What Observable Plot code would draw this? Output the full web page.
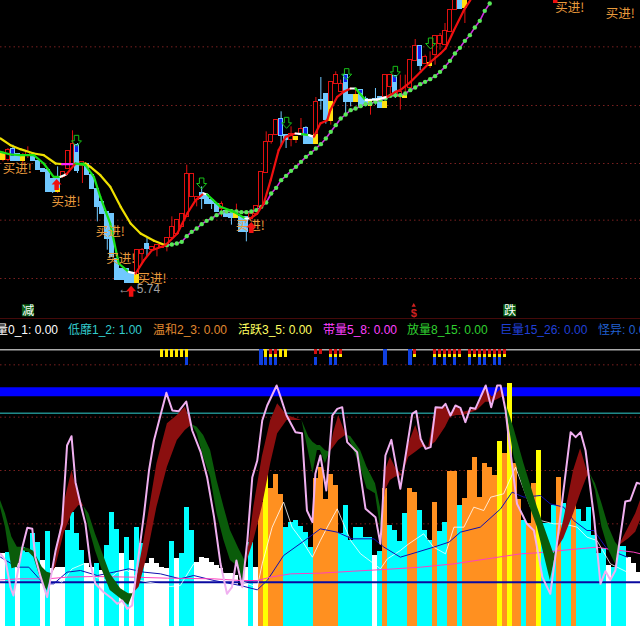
<!DOCTYPE html>
<html><head><meta charset="utf-8">
<script src="https://cdn.jsdelivr.net/npm/d3@7"></script>
<script src="https://cdn.jsdelivr.net/npm/@observablehq/plot@0.6"></script>
<style>
html,body{margin:0;padding:0;background:#000;overflow:hidden}
#wrap{width:640px;height:626px;background:#000;position:relative;overflow:hidden}
#wrap svg{display:block;background:#000}
#legend{position:relative;height:21px;width:640px;overflow:hidden;font:12px "Liberation Sans","Noto Sans CJK SC",sans-serif}
#legend span{position:absolute;top:1px;white-space:nowrap}
</style></head><body><div id="wrap"></div>
<script>
const DAYS = 128.86;
// ---- price panel (chart units) ----
const candleDay = [0,1,2,2,3,4,5,6,7,8,9,10,11,11,12,13,14,15,15,16,17,18,19,20,21,22,23,24,25,26,27,27,28,29,30,31,32,33,34,35,36,37,38,39,40,41,42,43,44,45,46,47,48,49,50,51,52,53,54,55,56,57,58,59,60,61,61,62,63,63,64,65,66,66,67,68,69,69,70,71,72,72,73,74,75,76,77,77,78,79,79,80,81,82,83,84,84,85,86,87,88,89,90,91,92,93,94];
const candleKind = "y r n b b y r b b b b b b y r r r n b r b b b b b b b b b b r y r b r r r r r r r r r r b b b b r b b y b b r r r r r r n b r y r n b b r y b b r y r r n b b y n b b y b b r y r n b r y r r n b r y r r r r r b y".split(" ");
const candleHigh = [505,515,525,490,498,500,520,495,478,455,450,425,460,395,445,507,568,530,502,475,470,435,395,355,325,320,185,155,155,140,210,135,215,245,220,225,227,248,310,300,320,465,438,370,400,375,360,350,355,328,320,348,310,310,320,342,445,565,555,600,625,555,580,550,605,580,555,552,668,555,728,680,715,655,745,720,735,712,677,690,690,678,670,660,695,670,735,655,735,732,712,735,735,780,842,822,780,795,805,852,860,890,930,970,980,965,965];
const candleTop = [500,510,515,490,498,495,505,495,478,455,450,425,425,395,445,507,528,525,502,475,470,435,395,355,325,320,185,155,155,140,210,135,210,230,220,225,227,248,280,300,320,438,438,370,382,375,360,350,350,328,320,320,310,310,320,342,445,535,555,600,605,555,560,550,575,578,555,552,655,555,662,680,715,655,735,710,735,712,677,677,690,678,665,660,665,670,735,655,735,732,712,685,677,780,822,822,780,790,772,852,852,868,930,970,980,965,965];
const candleBottom = [482,482,490,478,478,478,495,478,450,445,385,385,395,385,430,455,470,502,448,463,435,395,340,320,245,190,122,122,112,112,135,112,198,215,210,215,218,225,248,260,280,310,370,360,365,348,348,325,335,310,308,308,265,265,305,320,340,442,535,555,552,540,540,540,555,555,528,528,555,528,657,600,655,598,710,685,712,655,655,655,678,640,650,642,662,637,670,637,700,712,682,670,667,698,778,780,762,770,763,795,830,825,865,930,935,938,938];
const candleLow = [475,475,490,478,478,470,485,478,450,445,385,380,395,380,425,455,465,502,440,410,435,395,295,320,210,190,122,122,112,112,135,112,170,190,210,190,218,205,248,260,280,310,370,340,332,348,332,325,310,310,285,308,265,235,305,320,340,442,528,555,520,515,520,530,555,555,528,528,555,528,630,588,655,585,710,685,712,620,640,655,678,640,640,615,645,637,670,637,675,712,665,630,667,698,778,780,748,770,755,765,810,825,865,930,935,890,915];

const priceGrid = [820,644,470,300,125];
const fastDay = [0,2,4,6.7,8.7,10.7,12.1,13.3,15.1,17.1,18.8,20.1,22.1,23.8,25.8,27.2,28.9,30.5,33.2,35.6,37.6,39.3,40.9,41.6,44.3,47,49.3,50.3,51.7,53,54.4,56,57.4,59.4,60.7,62.1,63.1,64.4,65.8,66.4,67.8,69.1,70.5,71.5,73.5,75.8,77.9,79.5,80.5,82.6,84.6,86.6,88.6,89.6,91.3,93.3,94.6];
const fastVal = [505,497,495,495,470,430,430,438,470,465,430,370,290,170,145,140,180,210,225,260,320,360,380,377,340,325,305,305,320,350,420,510,550,560,558,555,550,590,600,630,670,685,695,695,660,662,670,685,690,715,745,775,800,815,870,930,960];
const fastTone = "G G G G G G W R G G G G G G W R R R R R R R W G G G W R R R R R R W G W R R R R R R W G W W R R R R R R R R R R R".split(" ");
const slowDay = [0,2,4,6.7,8.7,11.1,12.4,14.8,17.1,18.1,20.1,22.1,24.2,26.2,28.2,30.9,33.2];
const slowVal = [545,525,513,500,495,470,468,468,470,460,435,400,340,290,260,238,225];
const slowTone = "Y Y Y Y Y Y M G Y Y Y Y Y Y Y Y".split(" ");
const dotDay = d3.range(33,99);
const dotVal = [225,227,230,235,252,265,275,288,298,305,315,323,326,327,326,324,324,326,330,340,353,380,397,420,433,448,460,475,490,502,515,528,545,565,585,605,617,630,635,642,648,650,655,660,665,673,675,675,680,690,698,708,715,723,732,745,760,778,800,817,838,855,878,898,928,950];

const buyDay = [3.4,13.2,22.1,24.2,30.5,50.3,114.6,124.8];
const buyVal = [455,355,265,185,125,282,938,920];
const upDay = [11.3,50.5,26.3,111.7];
const upVal = [407,278,87,968];
const downDay = [15.3,40.5,57.6,69.7,79.5,86.6];
const downVal = [538,410,592,738,745,830];

// ---- indicator panel (chart units) ----
const volumes = [218,221,221,188,238,223,278,253,198,285,173,178,178,288,343,278,228,188,178,188,168,243,341,291,218,266,198,296,248,188,203,188,178,173,255,203,218,358,288,193,208,203,193,183,173,158,158,153,123,178,251,178,373,463,415,456,396,298,313,318,300,283,238,443,478,381,456,423,278,363,258,298,298,268,266,213,226,413,303,288,256,338,413,401,348,288,258,373,286,313,465,465,363,383,467,506,388,488,478,453,554,518,728,490,381,318,308,430,528,308,308,363,448,368,328,398,351,316,358,273,218,233,183,178,241,241,208,188,163];
const volumeKind = ("wccwcccc"+"wc"+"www"+"cccc"+"ww"+"c"+"w"+"ccc"+"w"+"c"+"w"+"cc"+"wwwww"+"c"+"w"+"ccc"+"wwwwwwwwwww"+"c"+"w"+"oyooo"+"cccccc"+"ooooo"+"ccccccc"+"w"+"c"+"o"+"cccc"+"oo"+"ccc"+"o"+"cc"+"oo"+"c"+"o"+"oooooo"+"y"+"o"+"y"+"oo"+"c"+"oo"+"y"+"ccc"+"o"+"cc"+"o"+"cccccc"+"w"+"ccc"+"www").split("");

const pinkDay = [0,1,2,2.6,3.4,4.4,5.4,6.4,7,8.1,9.4,11.1,12.4,13.4,14.3,15.1,16.1,17.1,18.1,19.1,20.8,22.5,23.5,24.5,25.5,26.5,27.5,28.9,29.9,30.9,32.2,33.4,34.6,35.9,37.4,38.6,40.3,41.6,43,44.3,45.6,46.6,47.5,48.7,49.7,50.7,51.7,52.7,53.7,55.6,56.4,57.6,59.4,60.7,61.7,62.8,63.4,64.4,65.6,66.8,67.8,68.8,69.8,71.8,73.5,75.5,76.5,77.5,78.7,80.5,82.9,83.7,84.6,85.6,86.6,87.6,88.9,89.6,90.6,91.6,92.6,93.6,94.6,95.6,97.7,98.8,100,100.7,101.7,102.3,104,106,107.4,108.4,109.1,110.7,111.7,114.8,115.8,116.8,117.8,119.5,120.8,121.8,122.8,123.8,125.8,126.8,128.1,128.86];
const pinkVal = [218,198,118,93,158,238,296,293,208,148,88,228,308,543,571,433,368,308,188,128,103,83,68,78,53,63,178,338,468,558,633,701,648,646,675,588,523,448,328,188,98,118,198,118,258,448,498,618,663,723,688,633,583,580,348,313,458,513,408,633,653,658,553,523,353,328,248,513,560,413,638,646,563,533,538,658,656,668,633,663,656,613,656,653,723,658,723,723,648,568,368,308,288,208,148,98,208,583,568,583,528,328,128,166,140,168,375,378,431,428];

const ribbonDay = [0,1,2.3,3.4,4.4,5.7,6.7,8.4,9.4,10.4, 11.1,12.8,14.4,15.8,16.8, 17.8,19.1,20.5,22.1,24.2,25.8,26.7, 27.9,29.5,31.5,33.6,35.6,37.2,38.6, 39.6,40.9,42.3,43.6,45,46.3,48,48.7,49.5, 51,52.7,54.4,55.8,57.7,60.7, 62.1,62.9,63.8,64.4,65.4,66.3, 67.1,68.1,69.5,69.8, 70.5,72.5,73.8,75.5,76.5,76.7, 77.5,78.5,79.5,80.9,82.2,83.6,84.9,86.2, 87.6,89.6,90.6,91.9,93.3,96,97.7,99,101,101.7, 102,103.4,105.4,108.1,110.7,111.4,111.9, 113.4,115.4,116.8,118.1,118.7, 119.8,121.1,122.5,123.8,124.5,124.6, 126.5,127.9,128.86];
const ribbonFast = [358,298,173,178,228,223,208,128,108,158, 198,368,468,388,360, 298,228,168,108,83,63,98, 178,308,488,608,633,658,605, 578,508,448,338,258,198,178,138,188, 358,508,618,668,633,618, 518,458,528,528,488,523, 583,633,578,573, 553,478,413,398,298,308, 468,508,478,453,548,603,548,538, 653,658,633,658,643,653,713,688,713,678, 638,508,408,298,138,188,228, 318,468,533,468,458, 408,298,228,188,218,243, 298,338,378];
const ribbonSlow = [378,338,268,238,238,233,226,178,163,158, 178,278,338,363,360, 338,278,223,158,113,98,98, 118,208,358,478,558,588,605, 598,573,528,438,358,288,233,213,188, 258,358,488,578,618,618, 568,553,543,543,528,523, 538,558,573,573, 570,528,478,428,358,308, 408,438,448,453,508,523,538,538, 553,598,628,633,633,648,673,673,688,678, 658,593,488,358,248,218,228, 263,338,398,448,458, 428,368,298,253,240,243, 263,283,318];

const whiteDay = [10.1,12.4,14.4,16.8,19.1,21.5,23.5,25.5,28.2,31.5,34.2,36.2,38.9,51.7,52.7,54.7,57,58.7,60.7,62.8,64.4,65.8,67.8,70.5,72.5,75.2,76.5,77.9,80.5,82.2,85.2,87.2,89.6,91.3,93.3,95.3,97.3,98.7,101.3,103.7,106.7,108.7,111.4,113.4,116.1,118.1,120.1,122.8,126.2];
const whiteVal = [148,133,173,188,148,138,163,168,138,128,120,123,188,118,188,298,373,298,258,208,258,298,353,258,218,188,173,203,228,248,278,238,218,298,298,358,348,388,398,478,358,318,308,308,298,268,258,188,163];
const navyDay = [0,3.4,5.7,8.7,10.7,13.4,16.1,19.5,22.8,25.8,28.9,32.2,36.2,38.9,43,48.3,51.7,53.7,57,61.7,64.4,67.8,70.8,75.2,77.2,80.5,83.9,87.2,90.3,92.6,96.6,100.7,103,105.4,108.7,110.7,113.4,115.4,118.1,119.5,122.1,126.2];
const navyVal = [208,178,178,128,128,163,168,153,163,173,163,158,143,153,138,123,110,138,213,263,293,283,263,263,238,208,223,238,253,283,298,353,403,388,393,368,358,318,288,288,233,208];
const roseDay = [0,4,9.4,13.4,18.8,26.8,33.6,43,48.3,51.7,54.4,58.4,64.4,71.1,77.2,84.6,91.3,98,104.7,108.1,112.8,120.1,122.1,127.5,128.86];
const roseVal = [140,143,143,148,150,148,145,143,138,138,148,158,160,166,171,178,188,203,218,221,228,238,233,223,218];

const stripYellow = [32,33,34,35,36,37,53,54,55,56,57,66,67,68,83,87,88,89,90,91,92,94,95,96,97,98,99,100,101];
const stripRed = [54,55,63,64,66,67,68,83,87,88,89,90,91,92,94,95,96,97,98,99,100,101];
const stripBlue = [37,53,54,55,63,66,67,87,89,91,94,96,97,99,100];
const stripTall = [52,77,82];
const panelGrid = [785,628,468,308];

const legendLabels = ["低量0_1: 0.00","低靡1_2: 1.00","温和2_3: 0.00","活跃3_5: 0.00","带量5_8: 0.00","放量8_15: 0.00","巨量15_26: 0.00","怪异: 0.00"];
const legendLeft = [-16,68,153,238,323,407,500,598];
const legendColor = ["#fff","#33cccc","#e08a30","#ffff60","#ff40ff","#30d030","#2040d8","#2060d0"];

// ---- colours ----
const tones = {G:"#18e018",W:"#fff",R:"#f01010",M:"#ff20ff",Y:"#f0e000"};
const barTones = {w:"#fff",c:"#00ffff",o:"#ff9020",y:"#ffff00"};
const bodyFill = {r:"#000",b:"#70c8ff",y:"#ffe010",n:"#1020f0"};
const bodyStroke = {r:"#e01010",b:"#70c8ff",y:"#ffe010",n:"#70c8ff"};
const wick = {r:"#e01010",b:"#70c8ff",y:"#e01010",n:"#70c8ff"};

const upArrow = {draw(c,size){const r=Math.sqrt(size/Math.PI);c.moveTo(0,-r*1.1);c.lineTo(r,0);c.lineTo(r*.45,0);c.lineTo(r*.45,r*1.1);c.lineTo(-r*.45,r*1.1);c.lineTo(-r*.45,0);c.lineTo(-r,0);c.closePath();}};
const downArrow = {draw(c,size){const r=Math.sqrt(size/Math.PI);c.moveTo(0,r*1.1);c.lineTo(r,0);c.lineTo(r*.45,0);c.lineTo(r*.45,-r*1.1);c.lineTo(-r*.45,-r*1.1);c.lineTo(-r*.45,0);c.lineTo(-r,0);c.closePath();}};

const cjk = '"Noto Sans CJK SC",sans-serif';
const candles = candleDay.map((d,i)=>({d,k:candleKind[i],h:candleHigh[i],t:candleTop[i],b:candleBottom[i],l:candleLow[i]}));
const pts = (xs,ys,tone)=>xs.map((x,i)=>({x,y:ys[i],nx:xs[i+1],ny:ys[i+1],tone:tone?tone[i]:null}));

const price = Plot.plot({
  width:640,height:319,margin:0,
  x:{domain:[0,DAYS],axis:null},y:{domain:[2,959],axis:null},
  color:{type:"identity"},style:{background:"#000"},
  marks:[
    Plot.ruleY(priceGrid,{y:d=>d,stroke:"#7a2020",strokeDasharray:"1.5,3",strokeWidth:1}),
    Plot.ruleY([3],{stroke:"#8a1414",strokeWidth:1.5}),
    Plot.ruleX(candles,{x:d=>d.d+.5,y1:"l",y2:"h",stroke:d=>wick[d.k],strokeWidth:1,clip:true}),
    Plot.rect(candles,{x1:d=>d.d,x2:d=>d.d+1,y1:"b",y2:"t",fill:d=>bodyFill[d.k],stroke:d=>bodyStroke[d.k],insetLeft:.5,insetRight:.5,shapeRendering:"crispEdges",clip:true}),
    Plot.line(dotDay.map((d,i)=>({d:d+.5,v:dotVal[i]})),{x:"d",y:"v",stroke:"#d030e0",strokeWidth:1.6,clip:true}),
    Plot.dot(dotDay.map((d,i)=>({d:d+.5,v:dotVal[i]})),{x:"d",y:"v",r:2.2,fill:"#58e858",clip:true}),
    Plot.link(pts(slowDay,slowVal,slowTone).slice(0,-1),{x1:"x",y1:"y",x2:"nx",y2:"ny",stroke:d=>tones[d.tone],strokeWidth:2.2,strokeLinecap:"round"}),
    Plot.link(pts(fastDay,fastVal,fastTone).slice(0,-1),{x1:"x",y1:"y",x2:"nx",y2:"ny",stroke:d=>tones[d.tone],strokeWidth:2.2,strokeLinecap:"round",clip:true}),
    Plot.text(buyDay.map((d,i)=>({d,v:buyVal[i]})),{x:"d",y:"v",text:()=>"买进!",fill:"#e89a3c",fontSize:12.5,fontFamily:cjk}),
    Plot.dot(upDay.map((d,i)=>({d,v:upVal[i]})),{x:"d",y:"v",r:5,symbol:upArrow,fill:"#f01010",clip:true}),
    Plot.dot(downDay.map((d,i)=>({d,v:downVal[i]})),{x:"d",y:"v",r:5,symbol:downArrow,fill:"none",stroke:"#18c018",strokeWidth:1}),
    Plot.text([{d:24.9,v:93}],{x:"d",y:"v",text:()=>"←",fill:"#a0a0a0",fontSize:12,textAnchor:"middle",fontFamily:"Liberation Sans"}),
    Plot.text([{d:29.8,v:93}],{x:"d",y:"v",text:()=>"5.74",fill:"#a0a0a0",fontSize:12,fontFamily:"Liberation Sans"}),
    Plot.rect([{a:4.4,b:6.85},{a:101.3,b:103.9}],{x1:"a",x2:"b",y1:10,y2:46,fill:"#0b5c14"}),
    Plot.text([{d:5.6,t:"减"},{d:102.6,t:"跌"}],{x:"d",y:28,text:"t",fill:"#fff",fontSize:12,fontFamily:cjk}),
    Plot.text([{d:83.2}],{x:"d",y:20,text:()=>"$",fill:"#d02020",fontSize:11,fontWeight:"bold",fontFamily:"Liberation Sans"}),
    Plot.dot([{d:83.2}],{x:"d",y:44,r:1.6,symbol:"triangle",fill:"#d02020"})
  ]
});

// ribbon split into phases wherever fast meets slow
const ribbon = []; let phase = 0;
ribbonDay.forEach((d,i)=>{
  const f=ribbonFast[i], s=ribbonSlow[i], row={d,f,s,phase};
  ribbon.push(row);
  if(f===s){ phase++; ribbon.push({d,f,s,phase}); }
});
const phaseTone = {};
ribbon.forEach(r=>{ if(r.f!==r.s) phaseTone[r.phase] = r.f>r.s ? "#8b0f0f" : "#0a5c0a"; });

const bars = volumes.map((v,i)=>({i,v,k:volumeKind[i]}));
const crisp = {insetLeft:1,insetRight:.7,shapeRendering:"crispEdges"};

const lower = Plot.plot({
  width:640,height:286,margin:0,
  x:{domain:[0,DAYS],axis:null},y:{domain:[0,858],axis:null},
  color:{type:"identity"},style:{background:"#000"},
  marks:[
    Plot.ruleY(panelGrid,{y:d=>d,stroke:"#7a2020",strokeDasharray:"1.5,3"}),
    Plot.ruleY([704.5],{stroke:"#0000ff",strokeWidth:9}),
    Plot.ruleY([640],{stroke:"#30d0d0",strokeWidth:1}),
    Plot.ruleY([830],{stroke:"#fff",strokeWidth:1}),
    Plot.rect(stripYellow,{x1:d=>d,x2:d=>d+1,y1:806,y2:830,fill:"#ffe800",...crisp}),
    Plot.rect(stripRed,{x1:d=>d,x2:d=>d+1,y1:816,y2:830,fill:"#d01010",...crisp}),
    Plot.rect(stripBlue,{x1:d=>d,x2:d=>d+1,y1:783,y2:806,fill:"#1040e0",...crisp}),
    Plot.rect(stripTall,{x1:d=>d,x2:d=>d+1,y1:783,y2:830,fill:"#1040e0",...crisp}),
    Plot.rect(bars,{x1:d=>d.i,x2:d=>d.i+1,y1:0,y2:"v",fill:d=>barTones[d.k],shapeRendering:"crispEdges"}),
    Plot.ruleY([133],{stroke:"#0a0aa0",strokeWidth:2}),
    Plot.line(whiteDay.map((d,i)=>({d,v:whiteVal[i]})),{x:"d",y:"v",stroke:"#fff",strokeWidth:.8}),
    Plot.line(navyDay.map((d,i)=>({d,v:navyVal[i]})),{x:"d",y:"v",stroke:"#1010b0",strokeWidth:1}),
    Plot.line(roseDay.map((d,i)=>({d,v:roseVal[i]})),{x:"d",y:"v",stroke:"#ff40c0",strokeWidth:1}),
    Plot.areaY(ribbon,{x:"d",y1:"f",y2:"s",z:"phase",fill:d=>phaseTone[d.phase]}),
    Plot.line(pinkDay.map((d,i)=>({d,v:pinkVal[i]})),{x:"d",y:"v",stroke:"#f0b0f0",strokeWidth:2})
  ]
});

const wrap = document.getElementById("wrap");
wrap.appendChild(price);
const legend = document.createElement("div");
legend.id = "legend";
legendLabels.forEach((t,i)=>{
  const s=document.createElement("span");
  s.textContent=t; s.style.left=legendLeft[i]+"px"; s.style.color=legendColor[i];
  legend.appendChild(s);
});
wrap.appendChild(legend);
wrap.appendChild(lower);
</script></body></html>
